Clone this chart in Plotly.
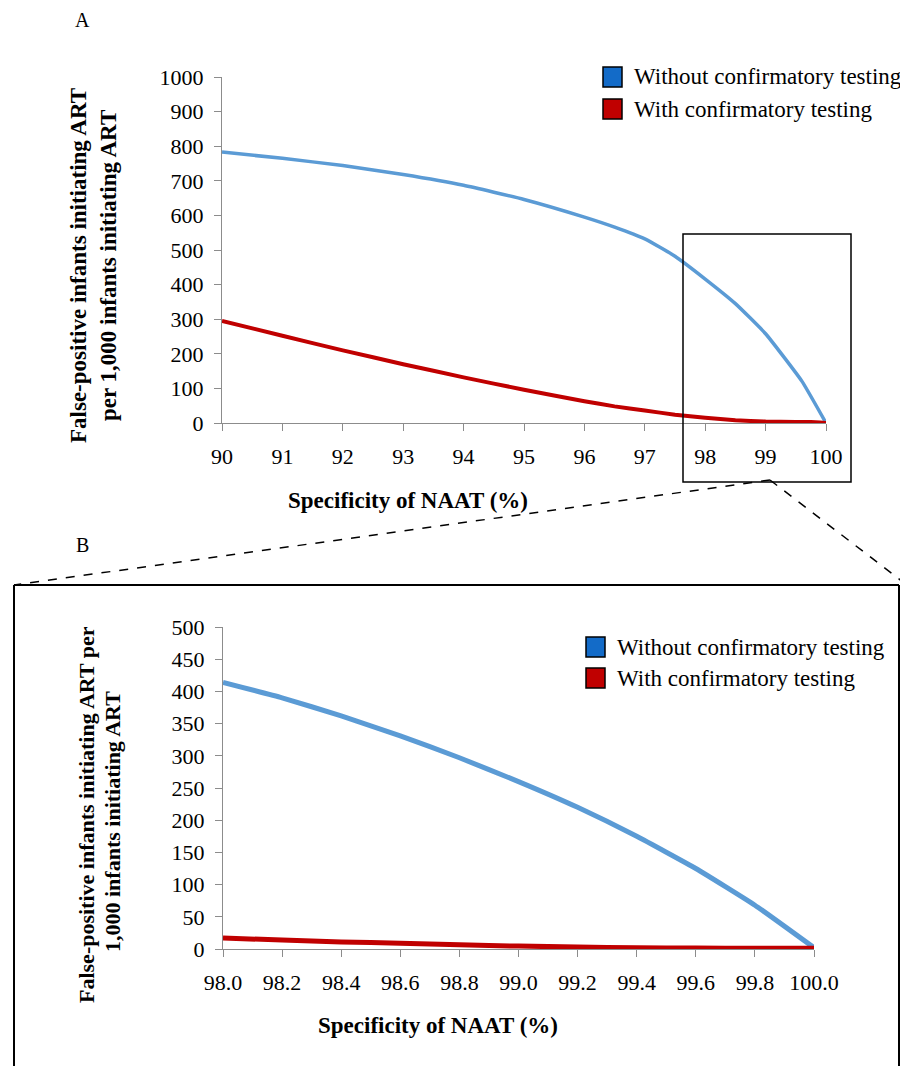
import plotly.graph_objects as go

# ---------------- data ----------------
spec_a = [90, 91, 92, 93, 94, 95, 96, 96.5, 97, 97.5, 98, 98.5, 99, 99.6, 100]
without_a = [783, 765, 744, 718, 687, 646, 595, 566, 532, 482, 416, 345, 258, 121, 0]
spec_a_red = [90, 91, 92, 93, 94, 95, 96, 96.5, 97, 97.5, 98, 98.5, 99, 99.5, 99.75, 100]
with_a = [295, 252, 210, 170, 132, 96, 63, 48, 36, 24, 15, 8, 4, 3, 3, 0]

spec_b = [98.0, 98.2, 98.4, 98.6, 98.8, 99.0, 99.2, 99.4, 99.6, 99.8, 100.0]
without_b = [414, 390, 362, 331, 297, 260, 220, 175, 125, 68, 2]
with_b = [17, 14, 11, 9, 6.5, 4.5, 3, 2, 1.5, 1.2, 1]

series_names = ["Without confirmatory testing", "With confirmatory testing"]
xticks_a = list(range(90, 101))
yticks_a = list(range(0, 1001, 100))
xticks_b = [98.0, 98.2, 98.4, 98.6, 98.8, 99.0, 99.2, 99.4, 99.6, 99.8, 100.0]
yticks_b = list(range(0, 501, 50))

# ---------------- style ----------------
PAGE_OFF = 8                      # default body margin of the html page
W, H = 908 - PAGE_OFF, 1066 - PAGE_OFF
FONT = "Liberation Serif"
BLUE_LINE = "#5B9BD5"
RED_LINE = "#C00000"
BLUE_SQ = "#136BC8"
RED_SQ = "#C00000"
GRAY = "#8C8C8C"


def px(x):
    return (x - PAGE_OFF) / W


def py(y):
    return 1 - (y - PAGE_OFF) / H


fig = go.Figure()

# Panel A lines
fig.add_trace(go.Scatter(x=spec_a, y=without_a, mode="lines", name=series_names[0],
                         line=dict(color=BLUE_LINE, width=3.5, shape="spline", smoothing=0.4),
                         xaxis="x", yaxis="y", showlegend=False, cliponaxis=False))
fig.add_trace(go.Scatter(x=spec_a_red, y=with_a, mode="lines", name=series_names[1],
                         line=dict(color=RED_LINE, width=4, shape="spline", smoothing=0.4),
                         xaxis="x", yaxis="y", showlegend=False, cliponaxis=False))
# Panel B lines
fig.add_trace(go.Scatter(x=spec_b, y=without_b, mode="lines", name=series_names[0],
                         line=dict(color=BLUE_LINE, width=5, shape="spline", smoothing=0.4),
                         xaxis="x2", yaxis="y2", showlegend=False, cliponaxis=False))
fig.add_trace(go.Scatter(x=spec_b, y=with_b, mode="lines", name=series_names[1],
                         line=dict(color=RED_LINE, width=5, shape="spline", smoothing=0.4),
                         xaxis="x2", yaxis="y2", showlegend=False, cliponaxis=False))

axis_common = dict(showline=True, linecolor=GRAY, linewidth=1.2, ticks="outside",
                   tickcolor=GRAY, ticklen=7, tickwidth=1.2, showgrid=False, zeroline=False,
                   automargin=False, ticklabelstandoff=6,
                   tickfont=dict(family=FONT, size=22, color="black"))

fig.update_layout(
    width=W, height=H, margin=dict(l=0, r=0, t=0, b=0, autoexpand=False),
    paper_bgcolor="white", plot_bgcolor="white", showlegend=False,
    font=dict(family=FONT, size=22, color="black"),
    xaxis=dict(domain=[px(222), px(826)], range=[90, 100], tickvals=xticks_a,
               anchor="y", **axis_common),
    yaxis=dict(domain=[py(423), py(77)], range=[0, 1000], tickvals=yticks_a,
               anchor="x", **axis_common),
    xaxis2=dict(domain=[px(223), px(814)], range=[98, 100], tickvals=xticks_b,
                tickformat=".1f", anchor="y2", **axis_common),
    yaxis2=dict(domain=[py(949), py(627)], range=[0, 500], tickvals=yticks_b,
                anchor="x2", **axis_common),
)

annotations = [
    dict(text="A", x=px(82), y=py(20), font=dict(size=20)),
    dict(text="B", x=px(82), y=py(545), font=dict(size=20)),
    # y titles (each line separately for exact spacing)
    dict(text="<b>False-positive infants initiating ART</b>",
         x=px(78), y=py(266), textangle=-90, font=dict(size=23)),
    dict(text="<b>per 1,000 infants initiating ART</b>",
         x=px(108), y=py(266), textangle=-90, font=dict(size=23)),
    dict(text="<b>False-positive infants initiating ART per</b>",
         x=px(86), y=py(815), textangle=-90, font=dict(size=22)),
    dict(text="<b>1,000 infants initiating ART</b>",
         x=px(112), y=py(822), textangle=-90, font=dict(size=22)),
    # x titles
    dict(text="<b>Specificity of NAAT (%)</b>", x=px(408), y=py(500), font=dict(size=23)),
    dict(text="<b>Specificity of NAAT (%)</b>", x=px(438), y=py(1025), font=dict(size=23)),
]
# legend texts
legend_a = [(632, 77), (632, 109)]
legend_b = [(615, 647), (615, 678)]
for (lx, ly), name in zip(legend_a + legend_b, series_names + series_names):
    annotations.append(dict(text=name, x=px(lx), y=py(ly), xanchor="left",
                            font=dict(size=23)))

for a in annotations:
    a.setdefault("xanchor", "center")
    a.update(xref="paper", yref="paper", showarrow=False, yanchor="middle")
    fig.add_annotation(**a)

shapes = [
    # zoom box in panel A
    dict(type="rect", x0=px(683), x1=px(851), y0=py(482), y1=py(234),
         line=dict(color="black", width=1.5)),
    # dashed connectors
    dict(type="line", x0=px(770), y0=py(480), x1=px(14), y1=py(585),
         line=dict(color="black", width=1.5, dash="dash")),
    dict(type="line", x0=px(770), y0=py(480), x1=px(903), y1=py(582),
         line=dict(color="black", width=1.5, dash="dash")),
    # panel B frame (top, left, right)
    dict(type="line", x0=px(14), y0=py(585), x1=px(899), y1=py(585),
         line=dict(color="black", width=2)),
    dict(type="line", x0=px(14), y0=py(585), x1=px(14), y1=py(1070),
         line=dict(color="black", width=2)),
    dict(type="line", x0=px(899), y0=py(585), x1=px(899), y1=py(1070),
         line=dict(color="black", width=2)),
]
# legend squares
for (lx, ly), col in zip(legend_a + legend_b, [BLUE_SQ, RED_SQ, BLUE_SQ, RED_SQ]):
    shapes.append(dict(type="rect", x0=px(lx - 29), x1=px(lx - 10), y0=py(ly + 10), y1=py(ly - 10),
                       fillcolor=col, line=dict(color="black", width=1.5)))
for s in shapes:
    s.update(xref="paper", yref="paper")
    fig.add_shape(**s)

fig.write_html("out.html")
